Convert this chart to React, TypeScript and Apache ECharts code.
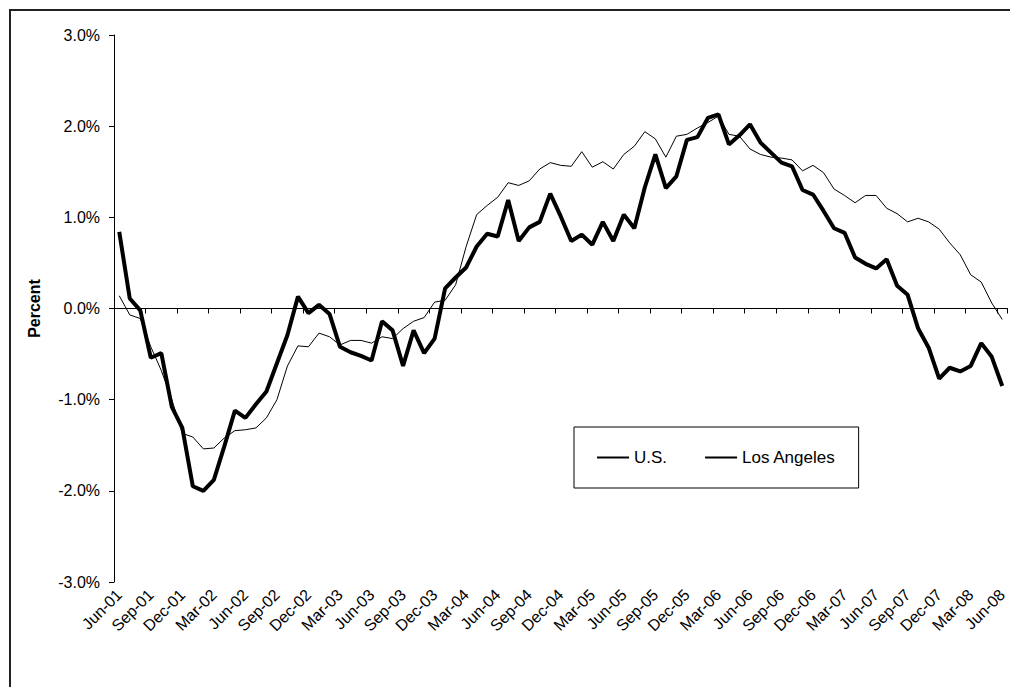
import React, { useEffect, useRef } from "react";
import * as echarts from "echarts";

const MONTHS = ["Jan", "Feb", "Mar", "Apr", "May", "Jun", "Jul", "Aug", "Sep", "Oct", "Nov", "Dec"];
const START_YEAR = 2001;
const START_MONTH = 5; // June
const N_MONTHS = 85;
const categories: string[] = [];
for (let k = 0; k < N_MONTHS; k++) {
  const m = (START_MONTH + k) % 12;
  const y = START_YEAR + Math.floor((START_MONTH + k) / 12);
  categories.push(`${MONTHS[m]}-${String(y % 100).padStart(2, "0")}`);
}

const usGrowth = [
  0.14, -0.07, -0.11, -0.42, -0.68, -1.0, -1.37, -1.41, -1.54, -1.53,
  -1.42, -1.34, -1.33, -1.31, -1.2, -1.0, -0.63, -0.41, -0.42, -0.27,
  -0.31, -0.4, -0.35, -0.35, -0.38, -0.31, -0.33, -0.22, -0.14, -0.1,
  0.07, 0.09, 0.26, 0.68, 1.03, 1.13, 1.22, 1.38, 1.35, 1.4,
  1.53, 1.6, 1.57, 1.56, 1.72, 1.55, 1.61, 1.53, 1.69, 1.78,
  1.94, 1.86, 1.66, 1.89, 1.91, 1.98, 2.04, 2.11, 1.91, 1.89,
  1.75, 1.69, 1.66, 1.65, 1.63, 1.51, 1.57, 1.49, 1.31, 1.24,
  1.16, 1.24, 1.24, 1.1, 1.04, 0.95, 0.99, 0.95, 0.87, 0.72,
  0.59, 0.37, 0.29, 0.06, -0.12,
];

const laGrowth = [
  0.84, 0.11, -0.02, -0.54, -0.49, -1.08, -1.31, -1.95, -2.0, -1.88,
  -1.51, -1.12, -1.2, -1.05, -0.91, -0.6, -0.29, 0.13, -0.05, 0.04,
  -0.06, -0.42, -0.48, -0.52, -0.57, -0.14, -0.24, -0.63, -0.24, -0.49,
  -0.33, 0.22, 0.34, 0.45, 0.68, 0.82, 0.79, 1.19, 0.74, 0.89,
  0.95, 1.26, 1.01, 0.74, 0.81, 0.7, 0.95, 0.74, 1.03, 0.88,
  1.33, 1.69, 1.32, 1.45, 1.85, 1.88, 2.09, 2.13, 1.8, 1.9,
  2.02, 1.82, 1.71, 1.6, 1.56, 1.3, 1.25, 1.07, 0.88, 0.83,
  0.56, 0.49, 0.44, 0.54, 0.25, 0.15, -0.22, -0.43, -0.77, -0.65,
  -0.69, -0.63, -0.38, -0.53, -0.85,
];

const seriesNames = ["U.S.", "Los Angeles"];
const Y_MIN = -3;
const Y_MAX = 3;
const Y_STEP = 1;

const FONT = "Liberation Sans, Arial, sans-serif";

export default function App() {
  const ref = useRef<HTMLDivElement>(null);
  useEffect(() => {
    if (!ref.current) return;
    const chart = echarts.init(ref.current, null, { renderer: "svg" });
    chart.setOption({
      animation: false,
      backgroundColor: "#ffffff",
      textStyle: { fontFamily: FONT, color: "#000" },
      graphic: [
        {
          type: "rect",
          silent: true,
          shape: { x: 10, y: 10, width: 1100, height: 1000 },
          style: { fill: "none", stroke: "#222", lineWidth: 2 },
        },
      ],
      grid: { left: 114, right: -2, top: 35, bottom: 105, containLabel: false },
      legend: {
        data: seriesNames,
        left: 574,
        top: 427,
        orient: "horizontal",
        borderColor: "#000",
        borderWidth: 1,
        padding: [22, 23, 22, 22],
        itemGap: 37,
        itemWidth: 32,
        itemHeight: 14,
        itemStyle: { opacity: 0, borderWidth: 0 },
        textStyle: { fontFamily: FONT, fontSize: 17, color: "#000" },
      },
      xAxis: [
        {
          type: "category",
          data: categories,
          boundaryGap: true,
          position: "bottom",
          axisLine: { show: true, onZero: true, lineStyle: { color: "#000", width: 1 } },
          axisTick: { show: true, interval: 2, length: 5, lineStyle: { color: "#000" } },
          axisLabel: { show: false },
          splitLine: { show: false },
        },
        {
          type: "category",
          data: categories,
          boundaryGap: true,
          position: "bottom",
          axisLine: { show: false, onZero: false },
          axisTick: { show: false },
          axisLabel: {
            show: true,
            interval: 2,
            rotate: 45,
            margin: 10,
            fontSize: 16,
            color: "#000",
            fontFamily: FONT,
          },
          splitLine: { show: false },
        },
      ],
      yAxis: {
        type: "value",
        min: Y_MIN,
        max: Y_MAX,
        interval: Y_STEP,
        name: "Percent",
        nameLocation: "middle",
        nameGap: 72,
        nameTextStyle: { fontWeight: "bold", fontSize: 16, fontFamily: FONT, color: "#000" },
        axisLine: { show: true, lineStyle: { color: "#000", width: 1 } },
        axisTick: { show: true, length: 5, lineStyle: { color: "#000" } },
        axisLabel: {
          formatter: (v: number) => v.toFixed(1) + "%",
          margin: 14,
          fontSize: 16,
          color: "#000",
          fontFamily: FONT,
        },
        splitLine: { show: false },
      },
      series: [
        {
          name: seriesNames[0],
          type: "line",
          data: usGrowth,
          symbol: "none",
          showSymbol: false,
          lineStyle: { color: "#000", width: 1 },
          itemStyle: { color: "#000" },
        },
        {
          name: seriesNames[1],
          type: "line",
          data: laGrowth,
          symbol: "none",
          showSymbol: false,
          lineStyle: { color: "#000", width: 4 },
          itemStyle: { color: "#000" },
        },
      ],
    });
    return () => chart.dispose();
  }, []);
  return (
    <div
      ref={ref}
      style={{ position: "fixed", left: 0, top: 0, width: 1010, height: 687, background: "#fff" }}
    />
  );
}
